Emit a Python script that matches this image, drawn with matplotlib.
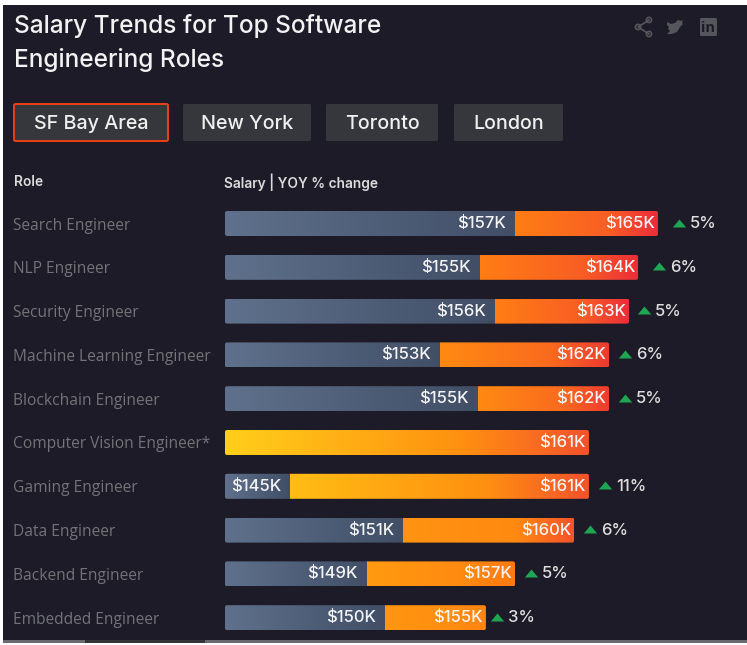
import numpy as np
import matplotlib
matplotlib.use("Agg")
import matplotlib.pyplot as plt
from matplotlib.patches import FancyBboxPatch, Rectangle, Polygon, Circle
from matplotlib.colors import LinearSegmentedColormap
from matplotlib.transforms import ScaledTranslation

roles = ["Search Engineer", "NLP Engineer", "Security Engineer", "Machine Learning Engineer",
         "Blockchain Engineer", "Computer Vision Engineer*", "Gaming Engineer", "Data Engineer",
         "Backend Engineer", "Embedded Engineer"]
prev_salary = [157.26, 155.36, 156.17, 153.18, 155.25, None, 145.03, 151.17, 149.22, 150.2]
curr_salary = [165.03, 163.95, 163.46, 162.37, 162.37, 161.28, 161.28, 160.47, 157.26, 155.68]
prev_labels = ["$157K", "$155K", "$156K", "$153K", "$155K", "", "$145K", "$151K", "$149K", "$150K"]
curr_labels = ["$165K", "$164K", "$163K", "$162K", "$162K", "$161K", "$161K", "$160K", "$157K", "$155K"]
yoy_labels = ["5%", "6%", "5%", "6%", "5%", "", "11%", "6%", "5%", "3%"]
tabs = ["SF Bay Area", "New York", "Toronto", "London"]
grad_start = ["#ff7d14", "#ff7d14", "#ff7d14", "#ff8a12", "#ff8a12", "#ffcf1a", "#ffbd14", "#ff9312", "#ff9a10", "#ff9610"]
grad_mid = ["#f85e24", "#f85e24", "#f85e24", "#f96a1e", "#f96a1e", "#ff9010", "#ff9010", "#ff8a10", "#ff8a10", "#ff8e10"]
grad_end = ["#ec2c3a", "#ec2c3a", "#ec2c3a", "#ee3a30", "#ee3a30", "#f4522c", "#f4522c", "#f4522c", "#ff7a12", "#ff8410"]
tri_gap = [21, 21, 15, 16, 16, 0, 16, 16, 16, 11]

W, H = 747, 645
BG = "#1c1b27"
TITLE = "Inter"
BODY = "Open Sans"
fig = plt.figure(figsize=(W / 100, H / 100), dpi=100, facecolor="white")

pg = fig.add_axes([0, 0, 1, 1])
pg.set_xlim(0, W)
pg.set_ylim(H, 0)
pg.axis("off")
pg.add_patch(Rectangle((3, 5), W - 3, 635, fc=BG, ec="none"))
pg.add_patch(Rectangle((3, 640), W - 3, 2.5, fc="#6a6a6e", ec="none"))
pg.add_patch(Rectangle((85, 640), 120, 2.5, fc="#333338", ec="none"))
pg.text(14, 26, "Salary Trends for Top Software", color="#f2f2f2", fontsize=17.6, family=TITLE, weight="medium", va="center")
pg.text(14, 60, "Engineering Roles", color="#f2f2f2", fontsize=17.6, family=TITLE, weight="medium", va="center")

tab_x = [(14, 168), (183, 311), (326, 438), (454, 563)]
for k, (name, (a, b)) in enumerate(zip(tabs, tab_x)):
    pg.add_patch(FancyBboxPatch((a, 104), b - a, 37, boxstyle="round,pad=0,rounding_size=1.5",
                                fc="#36373d", ec="#ee4016" if k == 0 else "none", lw=1.4))
    pg.text((a + b) / 2, 124, name, color="#f0f0f0", fontsize=14.2, family=TITLE, weight="medium",
            ha="center", va="center")

pg.text(14, 182, "Role", color="#dcdcdc", fontsize=9.9, family=TITLE, weight="semibold", va="center")
pg.text(224, 182, "Salary | YOY % change", color="#dcdcdc", fontsize=9.9, family=TITLE, weight="semibold", va="center")

ic = "#55555c"
pts = [(638, 27), (649, 20), (649, 34)]
pg.plot([pts[1][0], pts[0][0], pts[2][0]], [pts[1][1], pts[0][1], pts[2][1]], color=ic, lw=1.2)
for p in pts:
    pg.add_patch(Circle(p, 2.6, fc=BG, ec=ic, lw=1.2))
pg.add_patch(Polygon([(667, 22), (671, 24), (675, 23), (678, 20), (681, 21), (683, 20), (682, 23), (683, 24),
                      (680, 27), (677, 32), (672, 34), (667, 34), (670, 31), (668, 29), (669, 27), (667, 25)],
                     fc=ic, ec="none"))
pg.add_patch(FancyBboxPatch((700, 18), 17, 18, boxstyle="round,pad=0,rounding_size=1.5", fc=ic, ec="none"))
pg.text(708.5, 28, "in", color=BG, fontsize=10.5, family="Open Sans", weight="bold", ha="center", va="center")

PX_PER_K = 18.4
X0, ROW, Y0 = 141.5, 43.8, 223.5
left_px, right_px = 225, W
top_px = Y0 - ROW / 2
bot_px = Y0 + ROW * 9.5
ax = fig.add_axes([left_px / W, 1 - bot_px / H, (right_px - left_px) / W, (bot_px - top_px) / H])
ax.patch.set_alpha(0)
ax.axis("off")
slate = LinearSegmentedColormap.from_list("slate", ["#5f718c", "#414e66"])
ramp = np.linspace(0, 1, 256).reshape(1, -1)
BAR_H = 25 / ROW
xmax = X0 + (right_px - left_px) / PX_PER_K

for i, role in enumerate(roles):
    lo, hi = prev_salary[i], curr_salary[i]
    y0, y1 = i - BAR_H / 2, i + BAR_H / 2
    clip = FancyBboxPatch((X0, y0), hi - X0, BAR_H, boxstyle=f"round,pad=0,rounding_size={2 / PX_PER_K}",
                          mutation_aspect=PX_PER_K / ROW, fc="none", ec="none", transform=ax.transData)
    ax.add_patch(clip)
    seg_start = X0
    if lo is not None:
        im = ax.imshow(ramp, cmap=slate, extent=(X0, lo, y1, y0), aspect="auto", interpolation="bilinear")
        im.set_clip_path(clip)
        seg_start = lo
    warm = LinearSegmentedColormap.from_list(f"w{i}", [(0, grad_start[i]), (0.65, grad_mid[i]), (1, grad_end[i])])
    im = ax.imshow(ramp, cmap=warm, extent=(seg_start, hi, y1, y0), aspect="auto", interpolation="bilinear")
    im.set_clip_path(clip)

    txt = dict(color="#f4f4f4", fontsize=12, family=TITLE, weight="medium", va="center", textcoords="offset pixels")
    ax.annotate(curr_labels[i], (hi, i), xytext=(-3, 0), ha="right", **txt)
    if lo is not None:
        ax.annotate(prev_labels[i], (lo, i), xytext=(-9, 0), ha="right", **txt)
        off = ScaledTranslation(tri_gap[i] / 100, 1 / 100, fig.dpi_scale_trans)
        ax.plot([hi], [i], marker=[(-1, -0.6), (1, -0.6), (0, 0.6)], ms=9.6, color="#1fa653", mec="none",
                transform=ax.transData + off, clip_on=False)
        ax.annotate(yoy_labels[i], (hi, i), xytext=(tri_gap[i] + 11, 0), ha="left", **{**txt, "color": "#dedede"})
    pg.text(13, Y0 + ROW * i + 2, role, color="#737379", fontsize=11.2, family=BODY, va="center")

ax.set_xlim(X0, xmax)
ax.set_ylim(9.5, -0.5)
fig.savefig("out.png", dpi=100, facecolor="white")
